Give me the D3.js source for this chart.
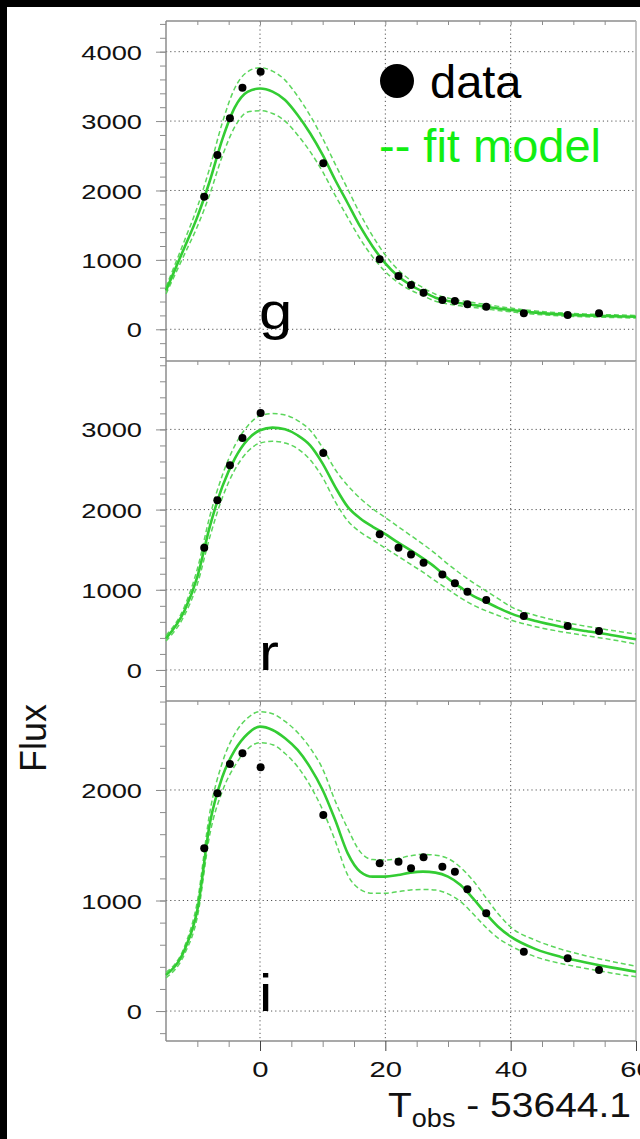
<!DOCTYPE html>
<html lang="en">
<head>
<meta charset="UTF-8">
<title>g r i light curves with fit model</title>
<script src="https://d3js.org/d3.v7.min.js"></script>
<style>
  body { margin: 0; background: #000; }
  svg { display: block; }
  text { font-family: "Liberation Sans", Arial, Helvetica, sans-serif; }
</style>
</head>
<body>
<script>
// observation epochs, days (T_obs - 53644.1)
const obsT = [-8.9, -6.8, -4.8, -2.8, 0.1, 10.1, 19.1, 22.1, 24.1, 26.1, 29.1, 31.1, 33.1, 36.1, 42.1, 49.1, 54.1];
const gFlux = [1911, 2511, 3040, 3482, 3712, 2391, 1009, 768, 638, 528, 422, 408, 360, 326, 230, 206, 230];
const rFlux = [1523, 2117, 2553, 2893, 3204, 2706, 1694, 1523, 1441, 1336, 1191, 1080, 975, 872, 672, 548, 486];
const iFlux = [1472, 1970, 2235, 2332, 2205, 1774, 1337, 1351, 1291, 1391, 1306, 1261, 1101, 884, 537, 477, 371];

// fit model
const modelT = [-15, -12, -10, -8, -6, -4, -2, 0, 2, 4, 6, 8, 10, 12, 14, 16, 18, 20, 22, 24, 26, 28, 30, 32, 34, 36, 38, 40, 44, 48, 52, 56, 60];
const gModel = [560, 1190, 1620, 2140, 2740, 3200, 3420, 3470, 3424, 3304, 3088, 2824, 2512, 2151, 1816, 1478, 1190, 951, 768, 638, 542, 455, 408, 375, 350, 326, 300, 278, 240, 215, 200, 190, 180];
const gUpper = [610, 1290, 1760, 2330, 2980, 3480, 3710, 3770, 3720, 3590, 3360, 3080, 2750, 2380, 2020, 1660, 1340, 1070, 860, 710, 600, 505, 450, 412, 385, 358, 330, 305, 264, 237, 220, 209, 198];
const gLower = [510, 1090, 1480, 1950, 2500, 2920, 3130, 3150, 3110, 3000, 2800, 2560, 2270, 1930, 1610, 1300, 1040, 830, 676, 566, 484, 405, 366, 338, 315, 294, 270, 251, 216, 193, 180, 171, 162];
const rModel = [394, 747, 1162, 1790, 2290, 2640, 2870, 2989, 3022, 3001, 2927, 2802, 2574, 2283, 2034, 1889, 1785, 1694, 1590, 1494, 1391, 1279, 1142, 1030, 925, 851, 775, 706, 610, 540, 485, 437, 382];
const rUpper = [430, 800, 1260, 1920, 2430, 2800, 3040, 3170, 3197, 3180, 3110, 2990, 2770, 2500, 2300, 2140, 2010, 1900, 1790, 1680, 1570, 1450, 1320, 1200, 1090, 990, 890, 790, 680, 605, 545, 495, 448];
const rLower = [360, 690, 1070, 1660, 2150, 2500, 2720, 2830, 2852, 2830, 2760, 2620, 2400, 2100, 1860, 1720, 1620, 1520, 1420, 1320, 1220, 1110, 1005, 900, 810, 740, 680, 623, 540, 478, 428, 380, 324];
const iModel = [326, 560, 914, 1698, 2120, 2362, 2507, 2573, 2543, 2468, 2362, 2205, 2000, 1728, 1427, 1261, 1216, 1216, 1231, 1252, 1261, 1252, 1216, 1140, 1020, 884, 763, 673, 560, 490, 440, 395, 356];
const iUpper = [350, 590, 990, 1800, 2250, 2510, 2650, 2709, 2690, 2620, 2520, 2380, 2190, 1900, 1650, 1440, 1370, 1367, 1380, 1405, 1418, 1410, 1380, 1300, 1180, 1030, 880, 760, 640, 560, 500, 450, 405];
const iLower = [300, 520, 850, 1600, 1990, 2220, 2370, 2428, 2410, 2330, 2210, 2040, 1820, 1540, 1230, 1100, 1065, 1065, 1080, 1095, 1100, 1095, 1060, 990, 880, 760, 660, 590, 490, 430, 385, 345, 310];

const xTicks = [0, 20, 40, 60];
const yTicks = [0, 1000, 2000, 3000, 4000];

const width = 640, height = 1139;
const left = 166, right = 636;
const panelH = 340, firstTop = 21;

const panels = [
  {band: "g", flux: gFlux, model: gModel, upper: gUpper, lower: gLower, domain: [-457, 4442]},
  {band: "r", flux: rFlux, model: rModel, upper: rUpper, lower: rLower, domain: [-387, 3853]},
  {band: "i", flux: iFlux, model: iModel, upper: iUpper, lower: iLower, domain: [-271, 2805]}
];

const lineGreen = "#33cc33";
const dashGreen = "#5cd65c";
const frameGrey = "#8c8c8c";

const svg = d3.select("body").append("svg")
  .attr("width", width)
  .attr("height", height);

// white page inside the black border
svg.append("rect").attr("x", 7).attr("y", 7)
  .attr("width", width - 7).attr("height", height - 7)
  .attr("fill", "#fff");

const x = d3.scaleLinear().domain([-15, 60]).range([left, right]);

panels.forEach((p, k) => {
  const top = firstTop + k * panelH;
  const bottom = top + panelH;
  const y = d3.scaleLinear().domain(p.domain).range([bottom, top]);
  const g = svg.append("g");

  // dotted grid
  g.selectAll(".hgrid").data(yTicks.filter(v => v <= p.domain[1])).enter().append("line")
    .attr("x1", left).attr("x2", right)
    .attr("y1", d => y(d)).attr("y2", d => y(d))
    .attr("stroke", "#555").attr("stroke-width", 1).attr("stroke-dasharray", "1.2,3");
  g.selectAll(".vgrid").data([0, 20, 40]).enter().append("line")
    .attr("x1", d => x(d)).attr("x2", d => x(d))
    .attr("y1", top).attr("y2", bottom)
    .attr("stroke", "#555").attr("stroke-width", 1).attr("stroke-dasharray", "1.2,3");

  // y axis: minor then major ticks
  const minor = d3.range(Math.ceil(p.domain[0] / 200) * 200, p.domain[1], 200);
  g.append("g").attr("transform", `translate(${left},0)`)
    .call(d3.axisLeft(y).tickValues(minor).tickSize(6).tickFormat(""))
    .call(a => a.select(".domain").remove())
    .call(a => a.selectAll("line").attr("stroke", frameGrey));
  const major = g.append("g").attr("transform", `translate(${left},0)`)
    .call(d3.axisLeft(y).tickValues(yTicks.filter(v => v <= p.domain[1])).tickSize(10).tickFormat(d3.format("d")))
    .call(a => a.select(".domain").remove())
    .call(a => a.selectAll("line").attr("stroke", frameGrey));
  major.selectAll("text")
    .attr("x", 0).attr("dy", "0.36em")
    .attr("transform", "translate(-24,0) scale(1.3,1)")
    .attr("fill", "#111")
    .style("font-size", "21px")
    .style("font-family", "'Liberation Sans', Arial, sans-serif");

  // x ticks hanging from the top of each panel
  g.append("g").attr("transform", `translate(0,${top})`)
    .call(d3.axisBottom(x).tickValues(d3.range(-10, 60, 5)).tickSize(4).tickFormat(""))
    .call(a => a.select(".domain").remove())
    .call(a => a.selectAll("line").attr("stroke", frameGrey));

  // frame
  g.append("line").attr("x1", left).attr("x2", right).attr("y1", top).attr("y2", top)
    .attr("stroke", frameGrey).attr("stroke-width", 1.5);
  g.append("line").attr("x1", left).attr("x2", left).attr("y1", top).attr("y2", bottom)
    .attr("stroke", frameGrey).attr("stroke-width", 1.5);
  g.append("line").attr("x1", right).attr("x2", right).attr("y1", top).attr("y2", bottom)
    .attr("stroke", "#b0b0b0").attr("stroke-width", 1.5);

  // band letter
  g.append("text")
    .attr("transform", `translate(${x(0) - 1},${y(0)}) scale(1.15,1)`)
    .style("font-size", "52px")
    .attr("fill", "#000")
    .text(p.band);

  // model curves
  const curve = vals => d3.line()
    .x((d, j) => x(modelT[j]))
    .y(d => y(d))
    .curve(d3.curveMonotoneX)(vals);

  [p.upper, p.lower].forEach(vals => {
    g.append("path").attr("d", curve(vals))
      .attr("fill", "none").attr("stroke", dashGreen)
      .attr("stroke-width", 1.5).attr("stroke-dasharray", "5,3");
  });
  g.append("path").attr("d", curve(p.model))
    .attr("fill", "none").attr("stroke", lineGreen).attr("stroke-width", 2.6);

  // data points
  g.selectAll(".pt").data(p.flux).enter().append("circle")
    .attr("cx", (d, j) => x(obsT[j]))
    .attr("cy", d => y(d))
    .attr("r", 4)
    .attr("fill", "#000");

  // bottom axis with labels on the last panel
  if (k === panels.length - 1) {
    svg.append("line").attr("x1", left).attr("x2", right).attr("y1", bottom).attr("y2", bottom)
      .attr("stroke", frameGrey).attr("stroke-width", 1.5);
    svg.append("g").attr("transform", `translate(0,${bottom})`)
      .call(d3.axisBottom(x).tickValues(d3.range(-10, 60, 5).filter(v => v % 20 !== 0)).tickSize(6).tickFormat(""))
      .call(a => a.select(".domain").remove())
      .call(a => a.selectAll("line").attr("stroke", frameGrey));
    const bx = svg.append("g").attr("transform", `translate(0,${bottom})`)
      .call(d3.axisBottom(x).tickValues(xTicks).tickSize(10).tickFormat(d3.format("d")))
      .call(a => a.select(".domain").remove())
      .call(a => a.selectAll("line").attr("stroke", "#444"));
    bx.selectAll("text")
      .attr("y", 0).attr("dy", 0)
      .attr("transform", "translate(0,36) scale(1.3,1)")
      .attr("fill", "#111")
      .style("font-size", "22.5px")
      .style("font-family", "'Liberation Sans', Arial, sans-serif");
  }
});

// axis titles
svg.append("text")
  .attr("transform", "translate(46,738) rotate(-90)")
  .attr("text-anchor", "middle")
  .style("font-size", "36px")
  .attr("fill", "#111")
  .text("Flux");

const xt = svg.append("text")
  .style("font-size", "36px")
  .attr("fill", "#111");
xt.append("tspan").text("T");
xt.append("tspan").attr("dy", 10).style("font-size", "25px").text("obs");
xt.append("tspan").attr("dy", -10).text(" - 53644.1");
// stretch the title so it runs from x=388 to about x=631
const xtLen = xt.node().getComputedTextLength();
xt.attr("transform", `translate(388,1117) scale(${(243 / xtLen).toFixed(3)},1)`);

// legend
svg.append("circle").attr("cx", 397).attr("cy", 81).attr("r", 17).attr("fill", "#000");
svg.append("text").attr("x", 430).attr("y", 98)
  .style("font-size", "47px").attr("fill", "#000").text("data");
svg.append("text").attr("x", 379).attr("y", 162)
  .style("font-size", "47px").attr("fill", "#11ee11").text("-- fit model");
</script>
</body>
</html>
